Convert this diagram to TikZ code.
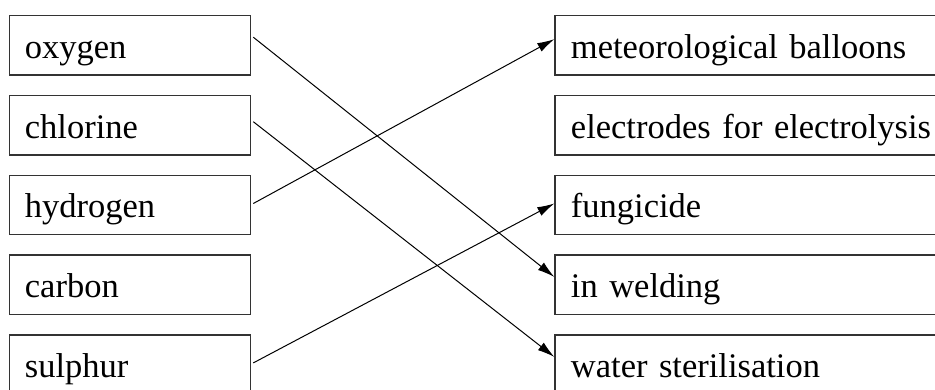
\documentclass[tikz,border=0pt]{standalone}
\usepackage{fontspec}
\setmainfont{Liberation Serif}
\usetikzlibrary{arrows.meta}
\begin{document}
\begin{tikzpicture}[x=1pt,y=-1pt,
  lbox/.style={draw=black!80, line width=1.3pt, anchor=north west,
    minimum width=241.5pt, minimum height=59.6pt, text width=210pt,
    inner xsep=15.5pt, align=left, text height=26pt, text depth=0pt,
    font=\fontsize{34.5}{40}\selectfont},
  rbox/.style={lbox, minimum width=420pt, text width=388pt, inner xsep=16pt},
  link/.style={line width=1pt, -{Latex[length=17pt,width=9.5pt]}}]
\useasboundingbox (0,0) rectangle (935,389);
\clip (0,0) rectangle (935,389);
\node[lbox] (ox) at (8.5,14.7) {oxygen};
\node[lbox] (cl) at (8.5,94.7) {chlorine};
\node[lbox] (hy) at (8.5,174.5) {hydrogen};
\node[lbox] (ca) at (8.5,254.4) {carbon};
\node[lbox] (su) at (8.5,334.4) {sulphur};
\node[rbox] (me) at (554.3,14.7) {meteorological balloons};
\node[rbox] (el) at (554.3,94.7) {electrodes for electrolysis};
\node[rbox] (fu) at (554.3,174.5) {fungicide};
\node[rbox] (we) at (554.3,254.4) {in welding};
\node[rbox] (wa) at (554.3,334.4) {water sterilisation};
\draw[link] ([xshift=2pt,yshift=-22.5pt]ox.north east) -- ([yshift=-22.5pt]we.north west);
\draw[link] ([xshift=2pt,yshift=-27pt]cl.north east) -- ([yshift=-22.5pt]wa.north west);
\draw[link] ([xshift=2pt,yshift=-29pt]hy.north east) -- ([yshift=-24.5pt]me.north west);
\draw[link] ([xshift=2pt,yshift=-28.5pt]su.north east) -- ([yshift=-29pt]fu.north west);
\end{tikzpicture}
\end{document}
